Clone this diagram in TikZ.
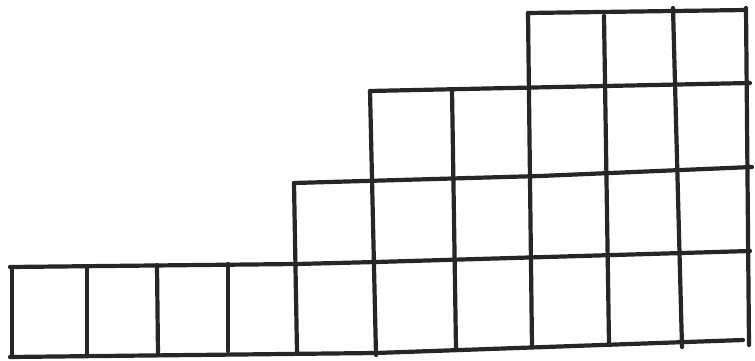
\documentclass[tikz,border=0pt]{standalone}
\begin{document}
\begin{tikzpicture}[x=1pt,y=-1pt,
  pen/.style={draw=black!85, line width=4.2pt, line cap=round, line join=round}]
\useasboundingbox (0,0) rectangle (755,361);
% horizontal lines
\draw[pen] (10,357) -- (376,353) -- (743,340);
\draw[pen] (10,267) -- (297,264) -- (376,262) -- (750,251);
\draw[pen] (294,183) -- (540,176) -- (752,167);
\draw[pen] (370,91) -- (510,88) -- (750,83);
\draw[pen] (528,13) -- (746,10);
% vertical lines
\draw[pen] (12,267) -- (12,357);
\draw[pen] (87,266) -- (87,356);
\draw[pen] (157,265) -- (158,355);
\draw[pen] (228,264) -- (228,351);
\draw[pen] (294,183) -- (297,353);
\draw[pen] (370,91) -- (376,355);
\draw[pen] (452,89) -- (456,349);
\draw[pen] (528,13) -- (532,347);
\draw[pen] (604,16) -- (609,344);
\draw[pen] (673,8) -- (682,347);
\draw[pen] (746,8) -- (749,345);
\end{tikzpicture}
\end{document}
